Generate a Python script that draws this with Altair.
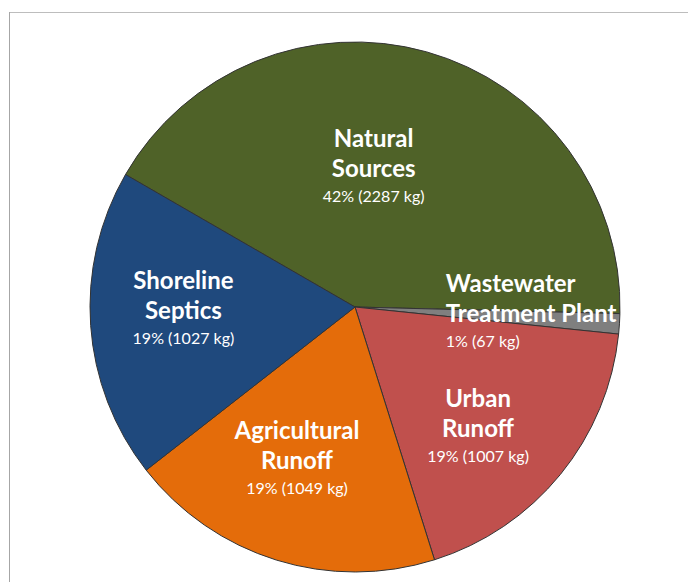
import math
import altair as alt
import pandas as pd

# ---- data ----
categories = ["Natural Sources", "Wastewater Treatment Plant", "Urban Runoff",
              "Agricultural Runoff", "Shoreline Septics"]
values_kg = [2287, 67, 1007, 1049, 1027]
name_labels = ["Natural\nSources", "Wastewater\nTreatment Plant", "Urban\nRunoff",
               "Agricultural\nRunoff", "Shoreline\nSeptics"]
colors = ["#4F6228", "#7F7F7F", "#C0504D", "#E46C0A", "#1F497D"]

total = sum(values_kg)
ends = []
acc = 0
for v in values_kg:
    acc += v
    ends.append(acc)
starts = [e - v for e, v in zip(ends, values_kg)]
pct_labels = [f"{round(v / total * 100)}% ({v} kg)" for v in values_kg]

df = pd.DataFrame({
    "category": categories,
    "value": values_kg,
    "start": starts,
    "end": ends,
    "mid": [(s + e) / 2 for s, e in zip(starts, ends)],
    "name": name_labels,
    "pct": pct_labels,
    "order": list(range(len(categories))),
})

# ---- layout / style ----
CX, CY, R = 355, 307, 265
first_angle = math.radians(300)
theta_scale = alt.Scale(domain=[0, total], range=[first_angle, first_angle + 2 * math.pi])
color_scale = alt.Scale(domain=categories, range=colors)
FONT = "Lato"

# label placement: radius along the slice's mid angle, then a small nudge
label_layout = {
    "Natural Sources": dict(r=139, dx=-19, dy=-4, align="center"),
    "Wastewater Treatment Plant": dict(r=91, dx=0, dy=1, align="left"),
    "Urban Runoff": dict(r=173, dx=-11, dy=13, align="center"),
    "Agricultural Runoff": dict(r=165, dx=-9, dy=-4, align="center"),
    "Shoreline Septics": dict(r=171, dx=-1, dy=-8, align="center"),
}

base = alt.Chart(df)

pie = base.mark_arc(outerRadius=R, stroke="#333333", strokeWidth=1).encode(
    x=alt.value(CX), y=alt.value(CY),
    theta=alt.Theta("start:Q", scale=theta_scale),
    theta2="end:Q",
    color=alt.Color("category:N", scale=color_scale, legend=None),
)

layers = [pie]
for cat, lay in label_layout.items():
    sub = base.transform_filter(alt.datum.category == cat)
    names = sub.mark_text(
        radius=lay["r"], dx=lay["dx"], dy=lay["dy"] - 22, align=lay["align"],
        baseline="alphabetic", font=FONT, fontSize=24, fontWeight="bold",
        color="white", lineBreak="\n", lineHeight=30,
    ).encode(
        x=alt.value(CX), y=alt.value(CY),
        theta=alt.Theta("mid:Q", scale=theta_scale),
        text="name:N",
    )
    pcts = sub.mark_text(
        radius=lay["r"], dx=lay["dx"], dy=lay["dy"] + 33, align=lay["align"],
        baseline="alphabetic", font=FONT, fontSize=16, color="white",
    ).encode(
        x=alt.value(CX), y=alt.value(CY),
        theta=alt.Theta("mid:Q", scale=theta_scale),
        text="pct:N",
    )
    layers += [names, pcts]

frame_top = base.mark_rule(color="#BDBDBD", strokeWidth=1).encode(
    x=alt.value(9), x2=alt.value(688), y=alt.value(12.5))
frame_left = base.mark_rule(color="#A6A6A6", strokeWidth=1).encode(
    x=alt.value(9.5), y=alt.value(12), y2=alt.value(582))

chart = alt.layer(frame_top, frame_left, *layers).properties(
    width=688, height=582, autosize="none", padding=0, background="white",
).configure_view(stroke=None)

chart.save("out.html", embed_options={"renderer": "svg", "actions": False})
